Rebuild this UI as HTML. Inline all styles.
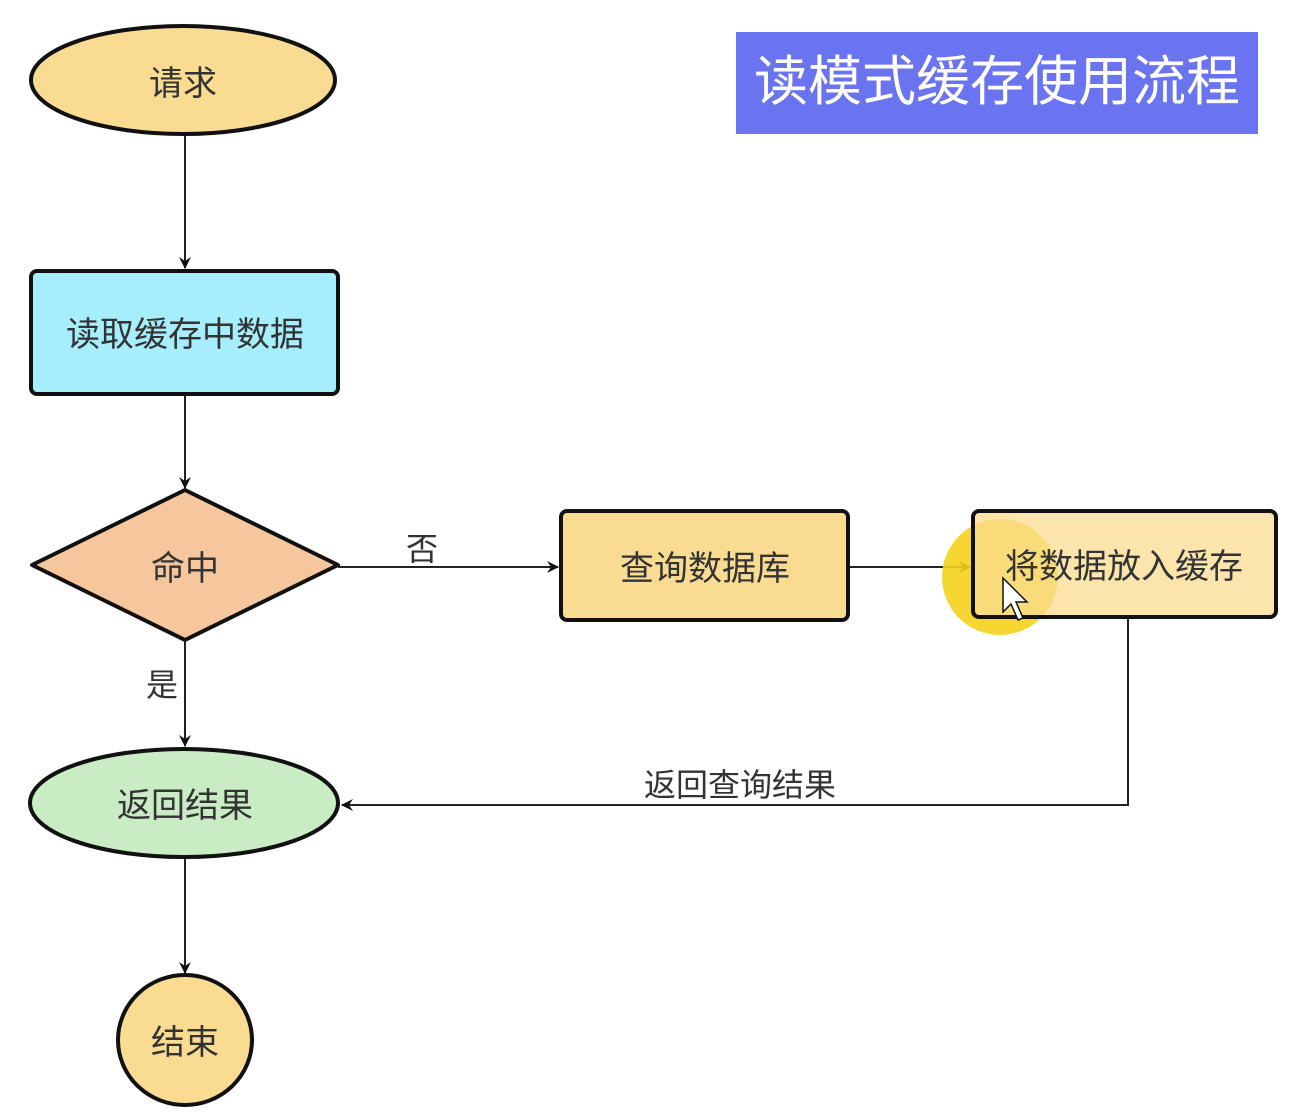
<!DOCTYPE html>
<html><head><meta charset="utf-8"><style>
html,body{margin:0;padding:0;background:#fff;}
svg{display:block;}
text{font-family:"Liberation Sans","Noto Sans CJK SC",sans-serif;}
</style></head><body>
<svg width="1308" height="1118" viewBox="0 0 1308 1118" xmlns="http://www.w3.org/2000/svg">
<defs>
<marker id="a" markerWidth="12" markerHeight="12" refX="11" refY="6" orient="auto" markerUnits="userSpaceOnUse">
<path d="M0,0 L12,6 L0,12 L4,6 Z" fill="#111"/>
</marker>
</defs>
<rect x="736" y="32" width="522" height="102" fill="#6a74f0"/>
<text x="997" y="100" font-size="54" fill="#fff" text-anchor="middle">读模式缓存使用流程</text>

<g stroke="#222" stroke-width="2" fill="none">
<line x1="185" y1="135" x2="185" y2="268" marker-end="url(#a)"/>
<line x1="185" y1="395" x2="185" y2="488" marker-end="url(#a)"/>
<line x1="185" y1="640" x2="185" y2="746" marker-end="url(#a)"/>
<line x1="185" y1="858" x2="185" y2="973" marker-end="url(#a)"/>
<line x1="338" y1="567" x2="558" y2="567" marker-end="url(#a)"/>
<line x1="848" y1="567" x2="970" y2="567" marker-end="url(#a)"/>
<polyline points="1128,617 1128,805 342,805" marker-end="url(#a)"/>
</g>

<g stroke="#111" stroke-width="4">
<ellipse cx="183" cy="80" rx="152" ry="54" fill="#f9dc92"/>
<rect x="31" y="271" width="307" height="123" rx="6" fill="#a6eefc"/>
<polygon points="32,565 185,490 338,565 185,640" fill="#f6c79d" stroke-linejoin="round"/>
<rect x="561" y="511" width="287" height="109" rx="6" fill="#f9dc92"/>
<ellipse cx="184" cy="803" rx="154" ry="54" fill="#c9ecc4"/>
<ellipse cx="185" cy="1040" rx="67" ry="65" fill="#f9dc92"/>
</g>
<circle cx="1000" cy="577" r="58" fill="#f5d31c" opacity="0.9"/>
<rect x="973" y="511" width="303" height="106" rx="6" fill="#f9dc92" fill-opacity="0.75" stroke="#111" stroke-width="4"/>

<g font-size="34" fill="#333" text-anchor="middle">
<text x="183" y="95">请求</text>
<text x="185" y="346">读取缓存中数据</text>
<text x="185" y="580">命中</text>
<text x="705" y="580">查询数据库</text>
<text x="1124" y="578">将数据放入缓存</text>
<text x="185" y="817">返回结果</text>
<text x="185" y="1054">结束</text>
</g>
<g font-size="32" fill="#333" text-anchor="middle">
<text x="422" y="560">否</text>
<text x="162" y="696">是</text>
<text x="740" y="796">返回查询结果</text>
</g>
<path d="M1003,578 L1003,612 L1011,604 L1018,620 L1023,618 L1016,602 L1027,602 Z" fill="#fff" stroke="#111" stroke-width="1.5"/>
</svg>
</body></html>
